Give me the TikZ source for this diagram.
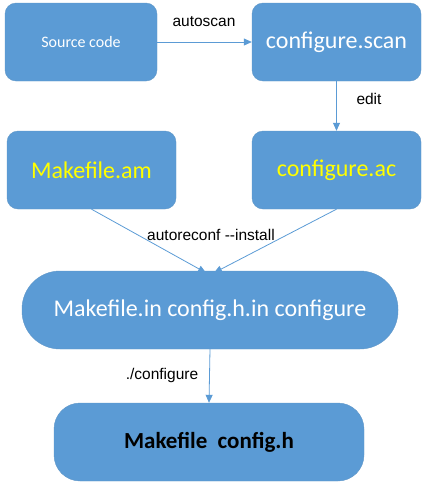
\documentclass[tikz,border=0pt]{standalone}
\usepackage{fontspec}
\setmainfont{Carlito}
\newfontfamily\arial{Liberation Sans}
\usetikzlibrary{arrows.meta}
\definecolor{obox}{HTML}{5B9BD5}
\definecolor{oyel}{HTML}{FFFF00}
\tikzset{
  box/.style={fill=obox, draw=obox!85!gray, line width=0.4pt, rounded corners=11pt, minimum height=78pt, inner sep=0pt, text=white},
  conn/.style={draw=obox, line width=0.8pt, -{Triangle[length=8pt,width=7pt]}},
  lbl/.style={font=\arial\fontsize{15.5}{18}\selectfont, text=black, inner sep=0pt},
}
\begin{document}
\begin{tikzpicture}[x=1pt,y=-1pt]
\useasboundingbox (0,0) rectangle (428,490);
\node[box, minimum width=152pt, font=\fontsize{16}{19}\selectfont] (src) at (81,42) {Source code};
\node[box, minimum width=169pt, font=\fontsize{24}{28}\selectfont] (scan) at (336.5,42) {configure.scan};
\node[box, minimum width=169pt, text=oyel, font=\fontsize{24}{28}\selectfont] (am) at (91.5,170) {Makefile.am};
\node[box, minimum width=169pt, text=oyel, font=\fontsize{24}{28}\selectfont] (ac) at (336.5,170) {configure.ac};
\node[box, minimum width=376pt, rounded corners=38pt, font=\fontsize{24}{28}\selectfont] (in) at (210,310) {Makefile.in config.h.in configure};
\node[box, minimum width=310pt, rounded corners=26pt, text=black, font=\bfseries\fontsize{23}{28}\selectfont] (out) at (209,442) {Makefile\ \ config.h};

\draw[conn] (src.east) -- (scan.west);
\node[lbl] (l1) at (204,22) {autoscan};
\draw[conn] (scan.south) -- (ac.north);
\node[lbl] (l2) at (369,99) {edit};
\draw[conn] (am.south) -- ([xshift=-4pt,yshift=-2pt]in.north);
\draw[conn] (ac.south) -- ([xshift=4pt,yshift=-2pt]in.north);
\node[lbl] (l3) at (211,235) {autoreconf --install};
\draw[conn] (in.south) -- (out.north);
\node[lbl] (l4) at (162,375) {./configure};
\end{tikzpicture}
\end{document}
